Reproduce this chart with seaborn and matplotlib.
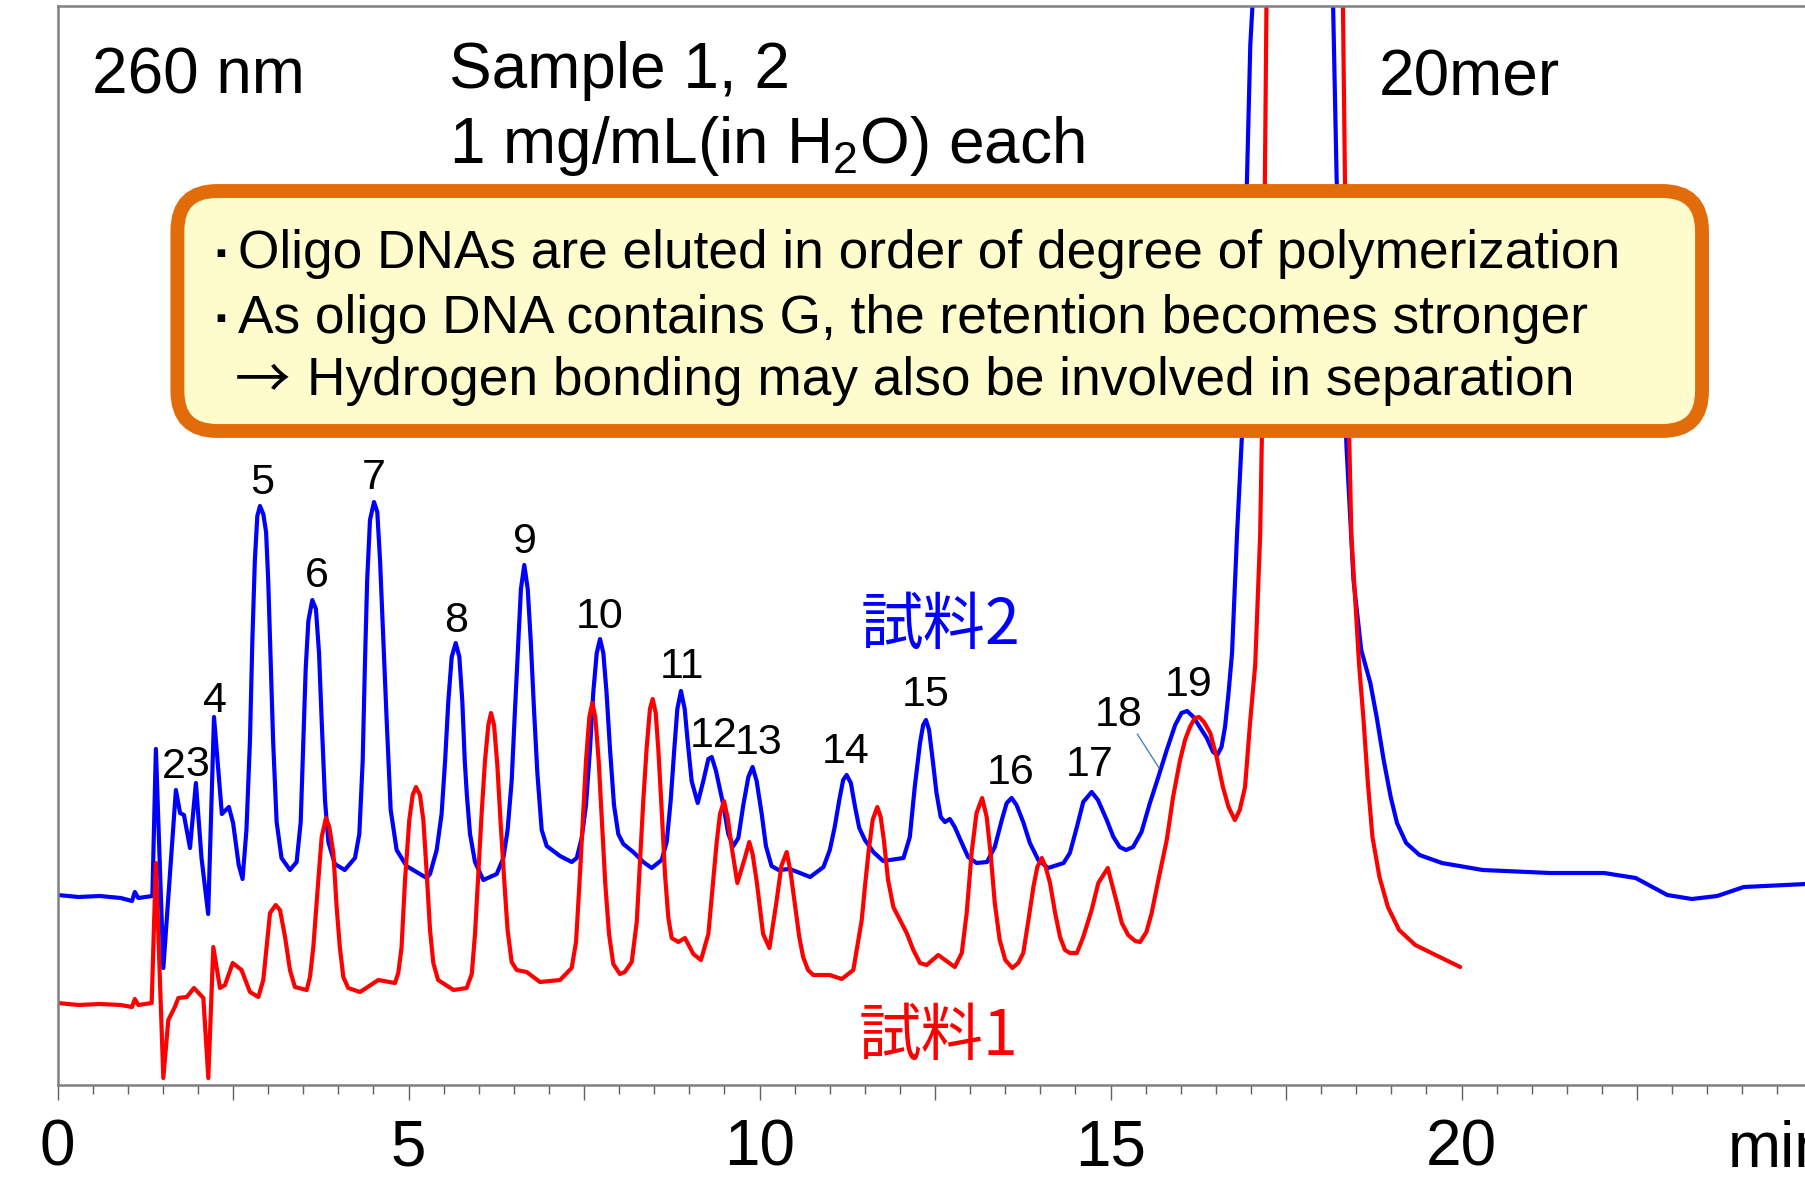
import pandas as pd
import seaborn as sns
import matplotlib.pyplot as plt
from matplotlib.patches import FancyBboxPatch
from matplotlib.transforms import Affine2D
from matplotlib.ticker import MultipleLocator, FuncFormatter

# --- chromatogram traces: (time in min, signal in arbitrary units) ---
# 20mer apex is off scale, the 150.0 points only carry the lines out of the top of the frame
sample2_points = [
    (0.00, 19.0), (0.30, 18.8), (0.60, 18.9), (0.90, 18.7), (1.06, 18.4), (1.10, 19.3), (1.15, 18.7),
    (1.35, 18.9), (1.40, 33.6), (1.506, 11.7), (1.60, 21.1), (1.685, 29.5), (1.745, 27.2), (1.80, 27.0),
    (1.886, 23.7), (1.97, 30.2), (2.05, 22.7), (2.145, 17.1), (2.228, 36.8), (2.34, 27.1), (2.44, 27.8),
    (2.50, 26.2), (2.58, 22.0), (2.635, 20.6), (2.69, 25.5), (2.74, 34.4), (2.774, 44.4), (2.81, 52.5),
    (2.845, 56.9), (2.883, 57.9), (2.93, 57.1), (2.97, 55.3), (3.00, 50.5), (3.035, 42.4), (3.07, 34.4),
    (3.12, 26.3), (3.19, 22.7), (3.31, 21.5), (3.405, 22.3), (3.463, 26.3), (3.50, 34.4), (3.534, 41.6),
    (3.572, 46.4), (3.628, 48.5), (3.68, 47.6), (3.724, 43.2), (3.762, 36.4), (3.81, 28.4), (3.857, 24.3),
    (3.95, 22.1), (4.09, 21.5), (4.236, 22.7), (4.298, 25.1), (4.346, 32.4), (4.379, 42.4), (4.41, 50.5),
    (4.45, 56.5), (4.507, 58.3), (4.554, 57.3), (4.593, 52.5), (4.64, 44.4), (4.688, 36.4), (4.745, 27.5),
    (4.83, 23.5), (4.97, 21.9), (5.257, 20.7), (5.305, 21.1), (5.40, 23.5), (5.47, 27.1), (5.52, 32.4),
    (5.566, 38.4), (5.614, 42.8), (5.671, 44.2), (5.723, 42.8), (5.765, 38.4), (5.80, 32.4), (5.83, 29.0),
    (5.875, 25.1), (5.946, 22.3), (6.064, 20.5), (6.255, 21.1), (6.35, 22.7), (6.41, 25.5), (6.468, 30.4),
    (6.516, 37.6), (6.563, 44.4), (6.60, 49.6), (6.648, 52.0), (6.697, 49.6), (6.74, 44.4), (6.786, 37.6),
    (6.834, 31.2), (6.896, 25.5), (6.967, 23.9), (7.157, 22.9), (7.323, 22.3), (7.395, 22.7), (7.466, 24.7),
    (7.527, 28.0), (7.584, 33.6), (7.63, 39.2), (7.68, 43.2), (7.727, 44.6), (7.774, 43.2), (7.82, 39.2),
    (7.869, 33.6), (7.926, 28.0), (7.987, 25.1), (8.059, 24.1), (8.20, 23.3), (8.343, 22.3), (8.463, 21.7),
    (8.605, 22.5), (8.677, 24.3), (8.733, 28.4), (8.785, 33.6), (8.828, 37.6), (8.88, 39.4), (8.933, 37.6),
    (8.975, 34.4), (9.032, 30.4), (9.118, 28.2), (9.198, 30.4), (9.27, 32.6), (9.318, 32.8), (9.379, 31.4),
    (9.483, 28.0), (9.554, 25.1), (9.626, 23.9), (9.697, 24.7), (9.768, 28.0), (9.84, 30.8), (9.90, 31.8),
    (9.958, 30.4), (10.03, 27.1), (10.09, 23.9), (10.17, 21.9), (10.27, 21.5), (10.43, 21.6), (10.72, 20.8),
    (10.91, 21.8), (11.00, 23.5), (11.07, 25.8), (11.135, 28.5), (11.19, 30.5), (11.24, 31.0), (11.30, 30.2),
    (11.36, 27.8), (11.42, 25.7), (11.50, 24.5), (11.62, 23.3), (11.76, 22.4), (12.05, 22.7), (12.14, 24.8),
    (12.21, 29.8), (12.285, 34.2), (12.33, 36.0), (12.37, 36.5), (12.414, 35.5), (12.466, 32.5),
    (12.52, 29.2), (12.58, 26.8), (12.64, 26.3), (12.71, 26.6), (12.78, 25.8), (12.88, 24.2), (12.97, 22.8),
    (13.09, 22.2), (13.24, 22.3), (13.35, 23.8), (13.45, 26.5), (13.52, 28.2), (13.59, 28.7), (13.66, 28.0),
    (13.76, 26.2), (13.85, 24.2), (13.97, 22.5), (14.11, 21.7), (14.33, 22.2), (14.42, 23.2), (14.52, 25.8),
    (14.61, 28.3), (14.73, 29.3), (14.82, 28.5), (14.945, 26.5), (15.04, 24.8), (15.13, 23.8), (15.22, 23.5),
    (15.32, 23.8), (15.44, 25.3), (15.56, 28.2), (15.68, 30.8), (15.80, 33.5), (15.92, 36.0), (16.01, 37.2),
    (16.09, 37.4), (16.18, 36.8), (16.27, 35.8), (16.37, 34.7), (16.46, 33.3), (16.52, 33.0), (16.58, 33.8),
    (16.63, 35.8), (16.68, 39.2), (16.73, 43.2), (16.80, 54.9), (16.87, 64.8), (16.94, 89.8), (16.99, 104.0),
    (17.02, 107.8), (17.60, 150.0), (18.17, 107.8), (18.22, 90.6), (18.36, 63.9), (18.46, 50.5),
    (18.57, 43.5), (18.70, 40.2), (18.79, 36.8), (18.89, 32.5), (18.99, 28.8), (19.08, 26.2), (19.21, 24.2),
    (19.40, 23.0), (19.72, 22.2), (20.30, 21.5), (21.26, 21.2), (22.03, 21.2), (22.48, 20.7), (22.93, 19.0),
    (23.28, 18.6), (23.64, 18.9), (24.02, 19.8), (24.91, 20.1),
]

sample1_points = [
    (0.00, 8.2), (0.30, 8.0), (0.60, 8.1), (0.90, 8.0), (1.06, 7.8), (1.10, 8.6), (1.15, 8.0), (1.34, 8.2),
    (1.40, 22.2), (1.506, 0.7), (1.577, 6.5), (1.67, 7.8), (1.72, 8.7), (1.84, 8.8), (1.943, 9.7),
    (2.076, 8.7), (2.147, 0.7), (2.218, 13.8), (2.313, 9.7), (2.385, 10.0), (2.494, 12.2), (2.62, 11.5),
    (2.74, 9.3), (2.86, 8.8), (2.93, 10.5), (2.978, 13.8), (3.026, 17.2), (3.107, 18.0), (3.168, 17.5),
    (3.24, 14.8), (3.31, 11.5), (3.38, 9.8), (3.548, 9.5), (3.595, 10.8), (3.643, 13.8), (3.714, 20.5),
    (3.762, 24.8), (3.823, 26.7), (3.871, 25.8), (3.928, 23.2), (3.975, 17.8), (4.02, 13.8), (4.07, 10.8),
    (4.14, 9.7), (4.308, 9.3), (4.569, 10.5), (4.806, 10.2), (4.853, 11.2), (4.90, 13.8), (4.949, 20.5),
    (5.01, 26.5), (5.058, 29.0), (5.105, 29.8), (5.162, 29.0), (5.21, 26.5), (5.258, 21.2), (5.305, 15.5),
    (5.352, 12.2), (5.42, 10.5), (5.64, 9.5), (5.827, 9.7), (5.90, 11.1), (5.946, 15.1), (5.993, 21.1),
    (6.04, 27.1), (6.088, 32.4), (6.136, 36.0), (6.174, 37.2), (6.217, 36.0), (6.264, 32.0), (6.31, 26.3),
    (6.36, 20.7), (6.41, 15.5), (6.468, 12.3), (6.54, 11.5), (6.682, 11.3), (6.872, 10.3), (7.157, 10.5),
    (7.323, 11.7), (7.385, 14.3), (7.432, 19.9), (7.48, 26.3), (7.527, 32.4), (7.575, 36.8), (7.617, 38.2),
    (7.66, 36.8), (7.708, 32.4), (7.755, 26.3), (7.80, 20.3), (7.855, 15.1), (7.916, 12.1), (8.01, 11.1),
    (8.08, 11.3), (8.178, 12.3), (8.25, 16.3), (8.296, 22.3), (8.343, 28.4), (8.39, 33.6), (8.438, 37.6),
    (8.477, 38.6), (8.52, 37.2), (8.557, 33.6), (8.605, 27.5), (8.652, 21.1), (8.70, 16.7), (8.748, 14.7),
    (8.842, 14.3), (8.937, 14.7), (9.056, 13.1), (9.165, 12.5), (9.27, 15.1), (9.389, 24.3), (9.436, 27.1),
    (9.493, 28.4), (9.546, 26.7), (9.60, 23.9), (9.683, 20.2), (9.79, 22.7), (9.853, 24.3), (9.90, 23.1),
    (9.96, 20.3), (10.05, 15.1), (10.14, 13.7), (10.24, 18.3), (10.31, 21.9), (10.386, 23.3),
    (10.443, 21.2), (10.50, 18.2), (10.565, 14.8), (10.62, 12.8), (10.69, 11.5), (10.765, 11.0),
    (11.00, 11.0), (11.17, 10.6), (11.335, 11.5), (11.455, 16.5), (11.50, 19.8), (11.55, 23.2),
    (11.61, 26.5), (11.677, 27.8), (11.725, 26.8), (11.77, 24.5), (11.83, 20.5), (11.905, 17.8),
    (12.00, 16.5), (12.095, 15.2), (12.19, 13.5), (12.285, 12.2), (12.38, 12.0), (12.545, 13.0),
    (12.78, 11.8), (12.88, 13.2), (12.95, 17.2), (13.02, 23.2), (13.09, 27.2), (13.17, 28.7),
    (13.235, 26.8), (13.29, 23.2), (13.35, 18.2), (13.42, 14.5), (13.50, 12.5), (13.60, 11.7),
    (13.685, 12.2), (13.756, 13.2), (13.83, 16.5), (13.90, 19.8), (13.956, 21.8), (14.02, 22.7),
    (14.075, 21.8), (14.137, 20.2), (14.21, 17.2), (14.28, 14.8), (14.35, 13.5), (14.42, 13.2),
    (14.52, 13.2), (14.61, 14.8), (14.73, 17.5), (14.825, 20.2), (14.96, 21.7), (15.015, 20.2),
    (15.09, 18.2), (15.16, 16.2), (15.25, 15.0), (15.35, 14.4), (15.42, 14.3), (15.51, 15.3),
    (15.585, 17.2), (15.68, 20.5), (15.80, 24.5), (15.89, 28.8), (15.99, 32.5), (16.06, 34.5),
    (16.13, 35.8), (16.20, 36.7), (16.26, 36.8), (16.33, 36.3), (16.42, 35.2), (16.51, 32.8),
    (16.60, 29.8), (16.68, 27.8), (16.77, 26.5), (16.84, 27.5), (16.915, 29.8), (16.99, 36.5),
    (17.06, 42.0), (17.13, 54.9), (17.175, 72.8), (17.22, 107.8), (17.76, 150.0), (18.31, 107.8),
    (18.36, 77.2), (18.43, 54.9), (18.54, 42.0), (18.60, 36.8), (18.665, 30.2), (18.73, 24.8),
    (18.83, 20.8), (18.95, 17.8), (19.11, 15.5), (19.34, 14.0), (19.60, 13.1), (19.98, 11.8),
]

# degree of polymerization labels on the 試料2 trace
peak_names = ['2', '3', '4', '5', '6', '7', '8', '9', '10', '11', '12', '13', '14', '15', '16',
              '17', '18', '19']
peak_t = [1.65, 1.99, 2.24, 2.92, 3.69, 4.50, 5.68, 6.66, 7.72, 8.89, 9.34, 9.98, 11.22, 12.36,
          13.57, 14.70, 15.11, 16.11]
peak_y = [31.8, 32.0, 38.4, 60.2, 50.9, 60.7, 46.4, 54.3, 46.8, 41.8, 34.9, 34.2, 33.3, 39.0,
          31.2, 32.0, 37.05, 40.0]

note_lines = ['Oligo DNAs are eluted in order of degree of polymerization',
              'As oligo DNA contains G, the retention becomes stronger',
              'Hydrogen bonding may also be involved in separation']

W, H = 1806, 1197
sns.set_style('white')
plt.rcParams['font.family'] = ['Liberation Sans', 'Noto Sans CJK JP', 'DejaVu Sans']
plt.rcParams['text.color'] = 'black'
plt.rcParams['mathtext.fontset'] = 'custom'
plt.rcParams['mathtext.rm'] = 'Liberation Sans'

fig = plt.figure(figsize=(W / 100, H / 100), dpi=100)
ax = fig.add_axes([57.6 / W, (H - 1085) / H, 1 - 57.6 / W, (1085 - 6) / H])

df2 = pd.DataFrame(sample2_points, columns=['time', 'signal'])
df1 = pd.DataFrame(sample1_points, columns=['time', 'signal'])
sns.lineplot(data=df2, x='time', y='signal', color='#0000ff', lw=3.0, estimator=None, sort=False, ax=ax)
sns.lineplot(data=df1, x='time', y='signal', color='#ff0000', lw=3.0, estimator=None, sort=False, ax=ax)

ax.set_xlim(0, 24.906)
ax.set_ylim(0, 107.9)
ax.set(xlabel='', ylabel='')
ax.set_yticks([])

# axis styling
for side in ['left', 'top', 'bottom']:
    ax.spines[side].set_color('#808080')
    ax.spines[side].set_linewidth(1.8)
ax.spines['right'].set_visible(False)
ax.xaxis.set_major_locator(MultipleLocator(2.5))
ax.xaxis.set_minor_locator(MultipleLocator(0.5))
ax.xaxis.set_major_formatter(FuncFormatter(lambda v, p: f'{v:.0f}' if abs(v % 5) < 1e-6 else ''))
ax.tick_params(axis='x', which='major', direction='out', length=11, width=1.0, color='#606060',
               labelsize=46, labelcolor='black', pad=13, bottom=True)
ax.tick_params(axis='x', which='minor', direction='out', length=6.5, width=1.0, color='#606060',
               bottom=True)
ax.text(23.79, -8.17, 'min', fontsize=46, ha='left', va='baseline', clip_on=False)

# peak numbers
for name, tx, ty in zip(peak_names, peak_t, peak_y):
    ax.text(tx, ty, name, fontsize=31, ha='center', va='center')
ax.plot([15.38, 15.69], [35.1, 31.7], color='#4f81bd', lw=1.0)

ax.text(12.58, 45.95, '試料2', color='#0000ff', fontsize=45, ha='center', va='center',
        family=['Noto Sans CJK JP'])
ax.text(12.55, 4.84, '試料1', color='#ff0000', fontsize=45, ha='center', va='center',
        family=['Noto Sans CJK JP'])

# header texts (pixel positions, y from top)
px = Affine2D().scale(1 / W, 1 / H) + fig.transFigure
fig.text(92, H - 93.3, '260 nm', fontsize=46, ha='left', va='baseline', transform=px)
fig.text(449, H - 88.3, 'Sample 1, 2', fontsize=46, ha='left', va='baseline', transform=px)
fig.text(449, H - 163.3, r'1 mg/mL(in H$_\mathregular{2}$O) each', fontsize=46, ha='left',
         va='baseline', transform=px)
fig.text(1379, H - 95, '20mer', fontsize=46, ha='left', va='baseline', transform=px)

# note box
box = FancyBboxPatch((177.4, H - 431.0), 1524.6, 240.0, boxstyle='round,pad=0,rounding_size=40',
                     transform=px, facecolor='#fefccc', edgecolor='#e26c0a', linewidth=10.0,
                     zorder=5)
fig.add_artist(box)
base_y = [268.3, 333.3, 395.0]
fig.text(221, H - base_y[0] + 13, '▪', fontsize=22, ha='center', va='center', transform=px, zorder=6)
fig.text(221, H - base_y[1] + 13, '▪', fontsize=22, ha='center', va='center', transform=px, zorder=6)
fig.text(237.6, H - base_y[0], note_lines[0], fontsize=38.3, ha='left', va='baseline',
         transform=px, zorder=6)
fig.text(237.6, H - base_y[1], note_lines[1], fontsize=38.3, ha='left', va='baseline',
         transform=px, zorder=6)
fig.text(263, H - base_y[2] + 14, '→', fontsize=40, ha='center', va='center', transform=px, zorder=6,
         family=['Noto Sans CJK JP', 'DejaVu Sans'])
fig.text(307, H - base_y[2], note_lines[2], fontsize=38.3, ha='left', va='baseline',
         transform=px, zorder=6)

fig.savefig('out.png', dpi=100)
